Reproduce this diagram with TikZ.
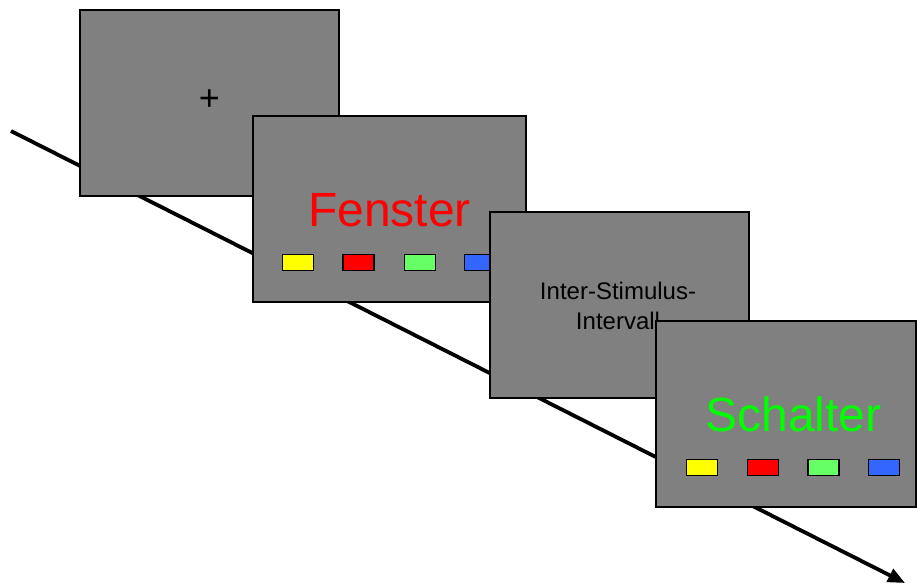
\documentclass[tikz,border=0pt]{standalone}
\usepackage{fontspec}
\setmainfont{Liberation Sans}
\usetikzlibrary{arrows.meta,positioning}
\definecolor{screengray}{RGB}{128,128,128}
\definecolor{keyyellow}{RGB}{255,255,0}
\definecolor{keyred}{RGB}{255,0,0}
\definecolor{keygreen}{RGB}{102,255,102}
\definecolor{keyblue}{RGB}{51,102,255}
\definecolor{wordgreen}{RGB}{0,255,0}

\begin{document}
\begin{tikzpicture}[x=1pt,y=-1pt,>={Triangle[length=17pt,width=14pt]},
 screen/.style={draw,line width=2pt,fill=screengray,inner sep=0pt,minimum width=259pt,minimum height=186pt},
 key/.style={draw,line width=1.5pt,inner sep=0pt,minimum width=31pt,minimum height=16pt},
 word/.style={font=\fontsize{48}{56}\selectfont,anchor=base}]
\useasboundingbox (0,0) rectangle (917,585);
% time axis, lies behind the screens
\coordinate (t0) at (11,131);
\coordinate (t1) at (905,583);
\draw[->,line width=3.8pt] (t0) -- (t1);
% fixation
\node[screen] (fixation) at (209.5,103.5) {};
\node[font=\fontsize{36}{40}\selectfont] (cross) at (209.5,100.5) {+};
% prime word with response keys
\node[screen,minimum width=273pt] (prime) at (389.5,209) {};
\node[word,text=keyred] (fenster) at (389.5,226) {Fenster};
\foreach \c/\x in {keyyellow/298,keyred/358.5,keygreen/420,keyblue/480}
  \node[key,fill=\c] (pk-\c) at (\x,262.5) {};
% blank interval
\node[screen] (isi) at (619.5,305) {};
\node[align=center,font=\fontsize{24}{30}\selectfont] (isitext) at (618,305.5) {Inter-Stimulus-\\Intervall};
% target word with response keys
\node[screen,minimum width=260pt] (target) at (786,414) {};
\node[word,text=wordgreen] (schalter) at (793.5,431) {Schalter};
\foreach \c/\x in {keyyellow/702,keyred/763,keygreen/823.5,keyblue/884}
  \node[key,fill=\c] (tk-\c) at (\x,467.5) {};
\end{tikzpicture}
\end{document}
